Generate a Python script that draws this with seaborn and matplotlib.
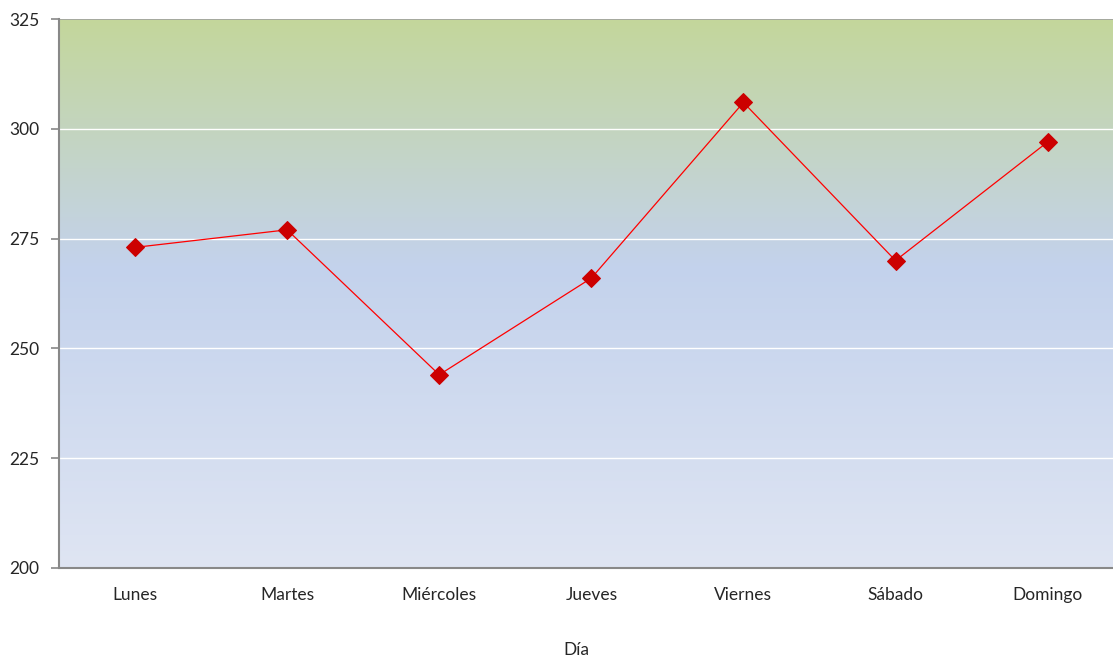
import matplotlib.pyplot as plt
import numpy as np
import pandas as pd
import seaborn as sns
from matplotlib.colors import LinearSegmentedColormap

dias = ["Lunes", "Martes", "Miércoles", "Jueves", "Viernes", "Sábado", "Domingo"]
valores = [273, 277, 244, 266, 306, 270, 297]
y_ticks = [200, 225, 250, 275, 300, 325]

df = pd.DataFrame({"Día": dias, "valor": valores})

sns.set_theme(style="white")
plt.rcParams["font.family"] = ["Lato", "DejaVu Sans"]

fig = plt.figure(figsize=(11.13, 6.61), dpi=100)
ax = fig.add_axes([59 / 1113, 93 / 661, 1 - 59 / 1113, (568 - 19) / 661])

# background gradient (green at top -> blue -> pale blue at bottom)
cmap = LinearSegmentedColormap.from_list(
    "bg", [(0.0, "#dfe5f3"), (0.55, "#c3d2ec"), (1.0, "#c4d79b")]
)
grad = np.linspace(0, 1, 256).reshape(-1, 1)
ax.imshow(grad, cmap=cmap, origin="lower", aspect="auto",
          extent=(-0.5, 6.43, 200, 325), zorder=0)

for t in y_ticks[1:-1]:
    ax.axhline(t, color="white", lw=1, zorder=1)
ax.axhline(325, color="#a0a0a0", lw=1.2, zorder=1)

sns.lineplot(data=df, x="Día", y="valor", ax=ax, color="#ff0000", lw=0.9,
             marker="D", markersize=9, markerfacecolor="#cc0000",
             markeredgecolor="#cc0000", zorder=3, sort=False)

ax.set_xlim(-0.5, 6.43)
ax.set_ylim(200, 325)
ax.set_yticks(y_ticks)
ax.set_xlabel("Día", fontsize=12.5)
ax.xaxis.set_label_coords(0.4905, -0.134)
ax.set_ylabel("")
ax.tick_params(axis="y", left=True, length=6, width=1.2, color="#888888",
               labelsize=12.5, pad=8)
ax.tick_params(axis="x", bottom=False, labelsize=12.5, pad=8)
for side in ["top", "right"]:
    ax.spines[side].set_visible(False)
for side in ["left", "bottom"]:
    ax.spines[side].set_color("#888888")
    ax.spines[side].set_linewidth(1.5)

fig.savefig("out.png", dpi=100)
